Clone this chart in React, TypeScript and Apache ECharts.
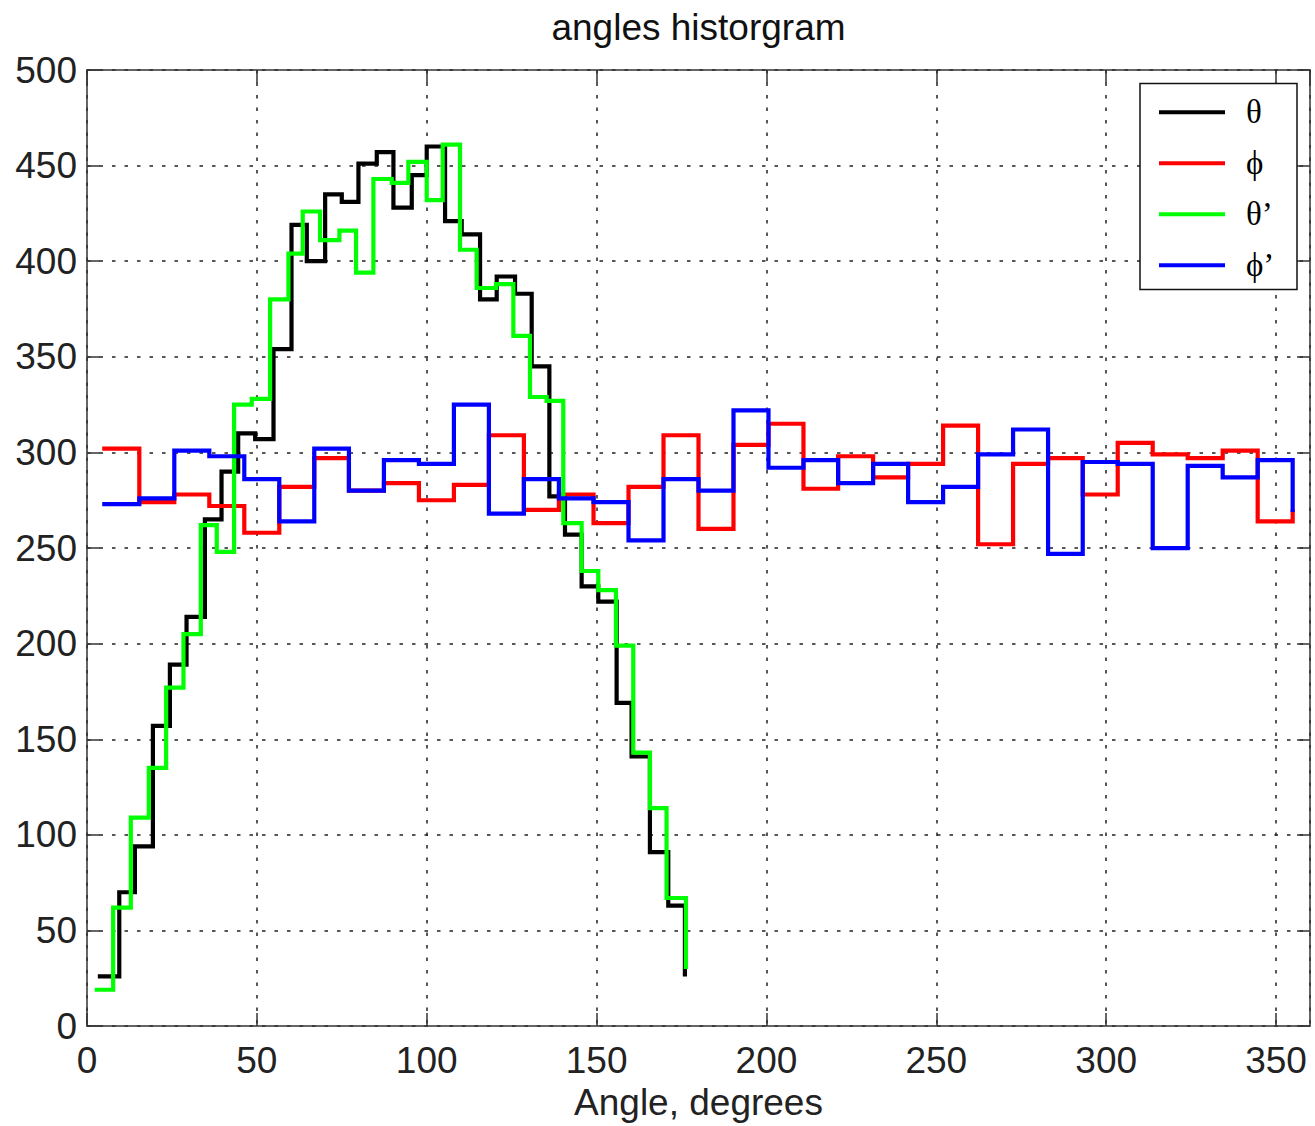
import React, { useEffect, useRef } from "react";
import * as echarts from "echarts";

// ---- data ----
const titleText = "angles historgram";
const xAxisName = "Angle, degrees";
const seriesNames = ["θ", "ϕ", "θ’", "ϕ’"];
const seriesColors = ["#000000", "#ff0000", "#00ff00", "#0000ff"];

// theta (black): stair points (bin positions in degrees) and counts
const thetaX = [3.8, 9.5, 14.1, 19.4, 24.4, 29.3, 34.7, 39.6, 44.5, 49.5, 54.9, 60.2, 64.7, 70.1, 75.0, 79.9, 85.3, 90.2, 95.6, 100.0, 105.4, 110.3, 115.7, 120.6, 126.0, 130.9, 136.1, 140.7, 145.6, 150.5, 155.9, 160.3, 165.7, 171.1, 176.0];
const thetaN = [26, 70, 94, 157, 189, 214, 265, 290, 310, 307, 354, 419, 400, 435, 431, 451, 457, 428, 445, 460, 421, 414, 380, 392, 383, 345, 277, 257, 230, 222, 169, 141, 91, 63, 27];

// theta' (green)
const thetaPX = [2.9, 7.7, 12.9, 18.2, 23.3, 28.4, 33.5, 38.2, 43.3, 48.5, 53.9, 59.3, 63.5, 68.6, 74.3, 79.2, 84.3, 89.7, 94.6, 100.0, 104.7, 109.8, 114.7, 120.4, 125.5, 130.4, 135.3, 140.2, 145.6, 150.5, 155.7, 160.8, 165.7, 170.6, 176.3];
const thetaPN = [19, 62, 109, 135, 177, 205, 262, 248, 325, 328, 380, 404, 426, 411, 416, 394, 443, 441, 452, 432, 461, 406, 386, 388, 361, 329, 327, 263, 238, 228, 199, 143, 114, 67, 31];

// phi and phi' share the bin positions
const phiX = [5.1, 15.4, 25.7, 36.0, 46.3, 56.6, 66.9, 77.1, 87.4, 97.7, 108.0, 118.3, 128.6, 138.9, 149.1, 159.4, 169.7, 180.0, 190.3, 200.6, 210.9, 221.1, 231.4, 241.7, 252.0, 262.3, 272.6, 282.9, 293.1, 303.4, 313.7, 324.0, 334.3, 344.6, 354.9];
const phiN = [302, 274, 278, 272, 258, 282, 297, 280, 284, 275, 283, 309, 270, 278, 263, 282, 309, 260, 304, 315, 281, 298, 287, 294, 314, 252, 294, 297, 278, 305, 299, 297, 301, 264, 269];
const phiPN = [273, 276, 301, 298, 286, 264, 302, 280, 296, 294, 325, 268, 286, 276, 274, 254, 286, 280, 322, 292, 296, 284, 294, 274, 282, 299, 312, 247, 295, 294, 250, 293, 287, 296, 270];

const xTickInterval = 50;
const xMin = 0;
const xMax = 360;
const yTickInterval = 50;
const yMin = 0;
const yMax = 500;

const pairs = (xs: number[], ys: number[]) => xs.map((x, i) => [x, ys[i]]);

export default function App() {
  const ref = useRef<HTMLDivElement>(null);

  useEffect(() => {
    document.body.style.margin = "0";
    if (!ref.current) return;
    const chart = echarts.init(ref.current, null, { renderer: "svg" });

    const font = "Liberation Sans, Arial, Helvetica, sans-serif";
    const axisLineStyle = { color: "#333", width: 1.5 };
    const gridLineStyle = { color: "#222", width: 1.5, type: [3.5, 9] };
    const seriesData = [
      pairs(thetaX, thetaN),
      pairs(phiX, phiN),
      pairs(thetaPX, thetaPN),
      pairs(phiX, phiPN),
    ];

    chart.setOption({
      animation: false,
      backgroundColor: "#ffffff",
      grid: { left: 87, right: 5, top: 70, bottom: 94, containLabel: false },
      xAxis: [
        {
          type: "value",
          min: xMin,
          max: xMax,
          interval: xTickInterval,
          position: "bottom",
          name: xAxisName,
          nameLocation: "middle",
          nameGap: 56,
          nameTextStyle: { fontFamily: font, fontSize: 37, color: "#222" },
          axisLine: { show: true, onZero: false, lineStyle: axisLineStyle },
          axisTick: { show: true, inside: true, length: 13, lineStyle: axisLineStyle },
          axisLabel: {
            show: true,
            margin: 16,
            fontFamily: font,
            fontSize: 37,
            color: "#222",
            showMaxLabel: false,
          },
          splitLine: { show: true, lineStyle: gridLineStyle },
        },
        {
          type: "value",
          min: xMin,
          max: xMax,
          interval: xTickInterval,
          position: "top",
          axisLine: { show: true, onZero: false, lineStyle: axisLineStyle },
          axisTick: { show: true, inside: true, length: 13, lineStyle: axisLineStyle },
          axisLabel: { show: false },
          splitLine: { show: false },
        },
      ],
      yAxis: [
        {
          type: "value",
          min: yMin,
          max: yMax,
          interval: yTickInterval,
          position: "left",
          axisLine: { show: true, onZero: false, lineStyle: axisLineStyle },
          axisTick: { show: true, inside: true, length: 13, lineStyle: axisLineStyle },
          axisLabel: {
            show: true,
            margin: 10,
            fontFamily: font,
            fontSize: 37,
            color: "#222",
          },
          splitLine: { show: true, lineStyle: gridLineStyle },
        },
        {
          type: "value",
          min: yMin,
          max: yMax,
          interval: yTickInterval,
          position: "right",
          axisLine: { show: true, onZero: false, lineStyle: axisLineStyle },
          axisTick: { show: true, inside: true, length: 13, lineStyle: axisLineStyle },
          axisLabel: { show: false },
          splitLine: { show: false },
        },
      ],
      legend: {
        show: true,
        orient: "vertical",
        left: 1159,
        top: 95.7,
        padding: 0,
        itemGap: 18,
        itemWidth: 66,
        itemHeight: 4,
        icon: "rect",
        selectedMode: false,
        data: seriesNames,
        textStyle: {
          fontFamily: "Liberation Serif, DejaVu Serif, Times New Roman, serif",
          fontSize: 33,
          lineHeight: 32,
          color: "#000",
          padding: [0, 0, 0, 16],
        },
        z: 10,
      },
      graphic: [
        {
          type: "text",
          x: 698.5,
          y: 27,
          style: {
            text: titleText,
            fill: "#111",
            font: `37px ${font}`,
            textAlign: "center",
            textVerticalAlign: "middle",
          },
        },
        {
          type: "rect",
          z: 5,
          shape: { x: 1140, y: 83.5, width: 157, height: 206 },
          style: { fill: "#ffffff", stroke: "#111", lineWidth: 1.5 },
        },
      ],
      series: seriesNames.map((name, i) => ({
        name,
        type: "line",
        step: "end",
        xAxisIndex: 0,
        yAxisIndex: 0,
        data: seriesData[i],
        showSymbol: false,
        symbol: "none",
        color: seriesColors[i],
        lineStyle: { color: seriesColors[i], width: 4.2, cap: "square", join: "miter" },
        z: 2 + i * 0.01,
      })),
    });

    return () => {
      chart.dispose();
    };
  }, []);

  return (
    <div
      ref={ref}
      style={{ position: "absolute", left: 0, top: 0, width: 1315, height: 1126 }}
    />
  );
}
